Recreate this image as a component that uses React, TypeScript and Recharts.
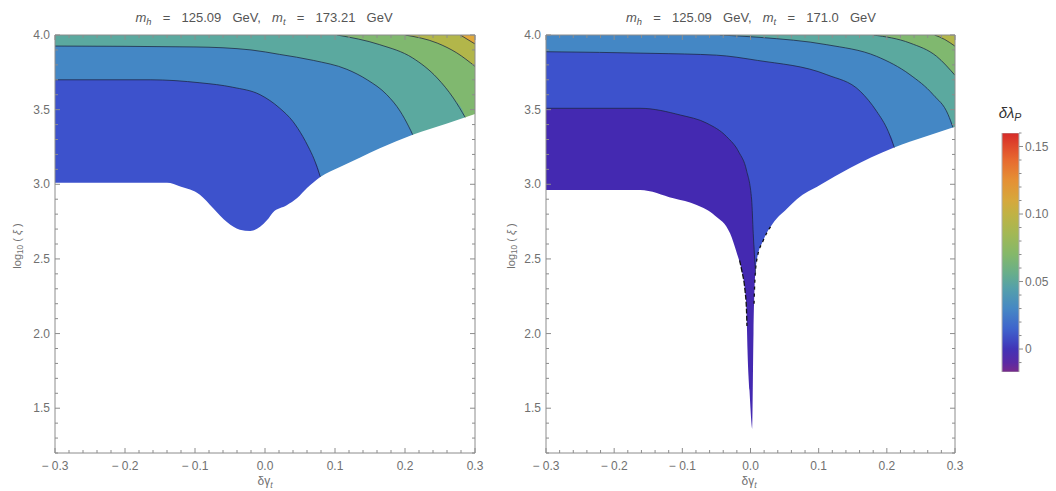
import React from 'react';
import { ComposedChart, Area, Line, XAxis, YAxis } from 'recharts';

type Pt = [number, number];

const TOP_Y = 4.0;
const Y_MIN = 1.2;
const X_MIN = -0.3;
const X_MAX = 0.3;

const xTicks = [-0.3, -0.28, -0.26, -0.24, -0.22, -0.2, -0.18, -0.16, -0.14, -0.12, -0.1, -0.08, -0.06, -0.04, -0.02, 0, 0.02, 0.04, 0.06, 0.08, 0.1, 0.12, 0.14, 0.16, 0.18, 0.2, 0.22, 0.24, 0.26, 0.28, 0.3];
const yTicks = [1.2, 1.3, 1.4, 1.5, 1.6, 1.7, 1.8, 1.9, 2.0, 2.1, 2.2, 2.3, 2.4, 2.5, 2.6, 2.7, 2.8, 2.9, 3.0, 3.1, 3.2, 3.3, 3.4, 3.5, 3.6, 3.7, 3.8, 3.9, 4.0];
const cbarTicks = [-0.01, 0, 0.01, 0.02, 0.03, 0.04, 0.05, 0.06, 0.07, 0.08, 0.09, 0.1, 0.11, 0.12, 0.13, 0.14, 0.15, 0.16];

// ---- left panel: m_t = 173.21 GeV ----
const leftBoundary: Pt[] = [[-0.3, 3.01], [-0.14, 3.01], [-0.121, 2.985], [-0.093, 2.93], [-0.074, 2.84], [-0.054, 2.745], [-0.036, 2.695], [-0.021, 2.687], [-0.007, 2.716], [0.003, 2.76], [0.011, 2.81], [0.031, 2.86], [0.046, 2.908], [0.06, 2.975], [0.079, 3.049], [0.107, 3.116], [0.136, 3.18], [0.164, 3.242], [0.211, 3.332], [0.26, 3.407], [0.3, 3.47]];
const leftContour1: Pt[] = [[-0.3, 3.7], [-0.164, 3.7], [-0.093, 3.68], [-0.046, 3.65], [-0.007, 3.6], [0.021, 3.51], [0.04, 3.42], [0.054, 3.32], [0.062, 3.25], [0.07, 3.17], [0.079, 3.05]];
const leftContour2: Pt[] = [[-0.3, 3.926], [-0.1, 3.92], [-0.02, 3.9], [0.021, 3.87], [0.069, 3.83], [0.117, 3.77], [0.146, 3.7], [0.174, 3.6], [0.193, 3.49], [0.205, 3.39], [0.211, 3.332]];
const leftContour3: Pt[] = [[0.103, 4.0], [0.164, 3.935], [0.211, 3.846], [0.246, 3.712], [0.269, 3.578], [0.286, 3.448]];
const leftContour4: Pt[] = [[0.2, 4.0], [0.246, 3.946], [0.274, 3.88], [0.3, 3.79]];
const leftContour5: Pt[] = [[0.279, 4.0], [0.3, 3.94]];

// ---- right panel: m_t = 171.0 GeV ----
const rightBoundary: Pt[] = [[-0.3, 2.962], [-0.162, 2.962], [-0.113, 2.906], [-0.079, 2.861], [-0.052, 2.79], [-0.03, 2.672], [-0.02, 2.538], [-0.013, 2.426], [-0.0081, 2.29], [-0.0059, 2.16], [-0.0044, 1.89], [-0.0015, 1.62], [0.0029, 1.354], [0.0044, 2.0], [0.0059, 2.3], [0.0091, 2.49], [0.019, 2.627], [0.033, 2.739], [0.053, 2.835], [0.068, 2.9], [0.102, 2.995], [0.146, 3.109], [0.209, 3.243], [0.258, 3.321], [0.3, 3.385]];
const rightContour0: Pt[] = [[-0.3, 3.509], [-0.162, 3.509], [-0.103, 3.464], [-0.064, 3.409], [-0.035, 3.319], [-0.017, 3.215], [-0.006, 3.096], [0.0017, 2.895], [0.004, 2.672], [0.0075, 2.4]];
const rightContour1: Pt[] = [[-0.3, 3.888], [-0.143, 3.877], [-0.05, 3.865], [0.01, 3.83], [0.112, 3.734], [0.161, 3.623], [0.185, 3.489], [0.202, 3.355], [0.211, 3.246]];
const rightContour2: Pt[] = [[-0.045, 4.0], [0.014, 3.984], [0.112, 3.935], [0.185, 3.857], [0.234, 3.734], [0.268, 3.6], [0.29, 3.466], [0.297, 3.38]];
const rightContour3: Pt[] = [[0.18, 4.0], [0.234, 3.946], [0.273, 3.857], [0.3, 3.73]];
const rightContour4: Pt[] = [[0.27, 4.0], [0.285, 3.97], [0.3, 3.925]];
const rightSpikeEdgeL: Pt[] = [[-0.016, 2.49], [-0.013, 2.426], [-0.0081, 2.29], [-0.0059, 2.16], [-0.0052, 2.05]];
const rightSpikeEdgeR: Pt[] = [[0.0052, 2.2], [0.0059, 2.3], [0.0091, 2.49], [0.019, 2.627], [0.03, 2.72]];

// ---- colour legend ----
const cbarRange: Pt = [-0.017, 0.16];
const cbarStops: [number, string][] = [
  [0.16, '#d62a28'], [0.15, '#e04a2c'], [0.14, '#e76a30'], [0.125, '#e59035'], [0.11, '#d6a83c'],
  [0.1, '#c0b244'], [0.085, '#a2b855'], [0.07, '#84b86a'], [0.055, '#66ad8d'], [0.045, '#55a0aa'],
  [0.03, '#4688c4'], [0.015, '#3f64cc'], [0.005, '#3f44c0'], [0.0, '#4233b6'], [-0.01, '#5a2aa4'], [-0.017, '#782a8c'],
];

const C_PURPLE = '#4429b1';
const C_BLUE = '#3d52cc';
const C_LBLUE = '#4487c5';
const C_TEAL = '#5ba99f';
const C_GREEN = '#80b86f';
const C_YGREEN = '#b2b64a';
const C_ORANGE = '#e0a83a';

const AXIS_COLOR = '#8c8c8c';
const LABEL_COLOR = '#707070';
const TITLE_COLOR = '#555555';
const CONTOUR_COLOR = '#1c2640';
const FONT = '"Liberation Sans", Arial, sans-serif';

type BandRow = { x: number; r: [number, number] };

// band above a contour: follows the contour, then drops to the bottom (the white mask hides what lies below the data boundary)
function bandData(edge: Pt[] | null): BandRow[] {
  if (!edge) {
    return [
      { x: X_MIN, r: [Y_MIN, TOP_Y] },
      { x: X_MAX, r: [Y_MIN, TOP_Y] },
    ];
  }
  const rows: BandRow[] = edge.map(([x, y]) => ({ x, r: [y, TOP_Y] }));
  const last = edge[edge.length - 1][0];
  if (last < X_MAX - 1e-9) {
    rows.push({ x: last + 0.0004, r: [Y_MIN, TOP_Y] });
    rows.push({ x: X_MAX, r: [Y_MIN, TOP_Y] });
  }
  return rows;
}
function maskData(boundary: Pt[]): BandRow[] {
  return boundary.map(([x, y]) => ({ x, r: [Y_MIN, y] }));
}
function lineData(pts: Pt[]) {
  return pts.map(([x, y]) => ({ x, y }));
}

function isMult(v: number, step: number) {
  const q = v / step;
  return Math.abs(q - Math.round(q)) < 1e-6;
}
function fmtX(v: number) {
  if (Math.abs(v) < 1e-9) return '0.0';
  const s = Math.abs(v).toFixed(1);
  return v < 0 ? '\u2212 ' + s : s;
}

const makeXTick = (plotTop: number) => (props: any) => {
  const { x, y, payload } = props;
  const v = payload.value as number;
  const major = isMult(v, 0.1);
  const len = major ? 5 : 3;
  return (
    <g>
      <line x1={x} x2={x} y1={y} y2={y - len} stroke={AXIS_COLOR} />
      <line x1={x} x2={x} y1={plotTop} y2={plotTop + len} stroke={AXIS_COLOR} />
      {major && (
        <text x={x} y={y + 17} textAnchor="middle" fontSize={12} fill={LABEL_COLOR} fontFamily={FONT}>
          {fmtX(v)}
        </text>
      )}
    </g>
  );
};

const makeYTick = (plotRight: number) => (props: any) => {
  const { x, y, payload } = props;
  const v = payload.value as number;
  const major = isMult(v, 0.5);
  const len = major ? 5 : 3;
  return (
    <g>
      <line x1={x} x2={x + len} y1={y} y2={y} stroke={AXIS_COLOR} />
      <line x1={plotRight} x2={plotRight - len} y1={y} y2={y} stroke={AXIS_COLOR} />
      {major && (
        <text x={x - 5} y={y + 4} textAnchor="end" fontSize={12} fill={LABEL_COLOR} fontFamily={FONT}>
          {v.toFixed(1)}
        </text>
      )}
    </g>
  );
};

const cbarTick = (props: any) => {
  const { x, y, payload } = props;
  const v = payload.value as number;
  const major = isMult(v, 0.05);
  const len = major ? 4 : 2.5;
  const label = Math.abs(v) < 1e-9 ? '0' : v.toFixed(2);
  return (
    <g>
      <line x1={x} x2={x + len} y1={y} y2={y} stroke={AXIS_COLOR} />
      {major && (
        <text x={x + 6} y={y + 4} textAnchor="start" fontSize={12} fill={LABEL_COLOR} fontFamily={FONT}>
          {label}
        </text>
      )}
    </g>
  );
};

type Band = { edge: Pt[] | null; color: string };

function Panel(props: {
  width: number;
  plotLeft: number;
  plotRight: number;
  bands: Band[];
  boundary: Pt[];
  contours: Pt[][];
  extras?: { pts: Pt[]; dash?: string }[];
}) {
  const { width, plotLeft, plotRight, bands, boundary, contours, extras } = props;
  const plotTop = 35;
  const plotBottom = 453;
  const H = 491;
  return (
    <ComposedChart
      width={width}
      height={H}
      margin={{ top: plotTop - 1, right: width - plotRight - 1, bottom: H - plotBottom - 1, left: plotLeft - 1 }}
    >
      {bands.map((b, i) => (
        <Area
          key={'b' + i}
          data={bandData(b.edge)}
          dataKey="r"
          type="monotone"
          fill={b.color}
          fillOpacity={1}
          stroke="none"
          isAnimationActive={false}
          activeDot={false}
        />
      ))}
      <Area
        data={maskData(boundary)}
        dataKey="r"
        type="monotone"
        fill="#ffffff"
        fillOpacity={1}
        stroke="none"
        isAnimationActive={false}
        activeDot={false}
      />
      {(extras || []).map((e, i) => (
        <Line
          key={'e' + i}
          data={lineData(e.pts)}
          dataKey="y"
          type="monotone"
          stroke="#111111"
          strokeWidth={1.3}
          strokeDasharray={e.dash}
          dot={false}
          activeDot={false}
          isAnimationActive={false}
        />
      ))}
      {contours.map((c, i) => (
        <Line
          key={'c' + i}
          data={lineData(c)}
          dataKey="y"
          type="monotone"
          stroke={CONTOUR_COLOR}
          strokeOpacity={0.75}
          strokeWidth={1}
          dot={false}
          activeDot={false}
          isAnimationActive={false}
        />
      ))}
      <XAxis
        type="number"
        dataKey="x"
        domain={[X_MIN, X_MAX]}
        allowDataOverflow
        ticks={xTicks}
        interval={0}
        height={1}
        tickSize={0}
        tickMargin={0}
        tickLine={false}
        axisLine={{ stroke: AXIS_COLOR }}
        tick={makeXTick(plotTop)}
      />
      <YAxis
        type="number"
        domain={[Y_MIN, TOP_Y]}
        allowDataOverflow
        ticks={yTicks}
        interval={0}
        width={1}
        tickSize={0}
        tickMargin={0}
        tickLine={false}
        axisLine={{ stroke: AXIS_COLOR }}
        tick={makeYTick(plotRight)}
      />
      <XAxis
        xAxisId="top"
        orientation="top"
        type="number"
        domain={[X_MIN, X_MAX]}
        allowDataOverflow
        height={1}
        tick={false}
        tickLine={false}
        axisLine={{ stroke: AXIS_COLOR }}
      />
      <YAxis
        yAxisId="right"
        orientation="right"
        type="number"
        domain={[Y_MIN, TOP_Y]}
        allowDataOverflow
        width={1}
        tick={false}
        tickLine={false}
        axisLine={{ stroke: AXIS_COLOR }}
      />
    </ComposedChart>
  );
}

function Title({ center, mt }: { center: number; mt: string }) {
  const sub: React.CSSProperties = { fontSize: '0.72em', position: 'relative', top: '0.3em', fontStyle: 'italic' };
  return (
    <div
      style={{
        position: 'absolute',
        left: center - 200,
        width: 400,
        top: 10,
        textAlign: 'center',
        fontFamily: FONT,
        fontSize: 13,
        lineHeight: '16px',
        color: TITLE_COLOR,
        whiteSpace: 'pre',
        wordSpacing: 2,
      }}
    >
      <span style={{ fontStyle: 'italic' }}>m</span>
      <span style={sub}>h</span>
      {'  =  125.09  GeV,  '}
      <span style={{ fontStyle: 'italic' }}>m</span>
      <span style={sub}>t</span>
      {'  =  ' + mt + '  GeV'}
    </div>
  );
}

function YLabel({ cx, cy }: { cx: number; cy: number }) {
  return (
    <div
      style={{
        position: 'absolute',
        left: cx - 50,
        top: cy - 8,
        width: 100,
        height: 16,
        lineHeight: '16px',
        textAlign: 'center',
        transform: 'rotate(-90deg)',
        fontFamily: FONT,
        fontSize: 11,
        color: LABEL_COLOR,
        whiteSpace: 'pre',
      }}
    >
      log<span style={{ fontSize: '0.75em', position: 'relative', top: '0.3em' }}>10</span>
      {' ( '}
      <span style={{ fontStyle: 'italic' }}>ξ</span>
      {' )'}
    </div>
  );
}

function XLabel({ cx }: { cx: number }) {
  return (
    <div
      style={{
        position: 'absolute',
        left: cx - 40,
        top: 474,
        width: 80,
        textAlign: 'center',
        fontFamily: FONT,
        fontSize: 12,
        lineHeight: '14px',
        color: LABEL_COLOR,
      }}
    >
      δγ<span style={{ fontSize: '0.72em', position: 'relative', top: '0.3em', fontStyle: 'italic' }}>t</span>
    </div>
  );
}

function ColorBar() {
  const w = 76;
  const pl = 22;
  const pr = 39;
  const pt = 134;
  const pb = 372;
  const H = 491;
  const data = [
    { x: 0, r: cbarRange },
    { x: 1, r: cbarRange },
  ];
  const span = cbarRange[1] - cbarRange[0];
  return (
    <ComposedChart width={w} height={H} margin={{ top: pt - 1, right: w - pr - 1, bottom: H - pb - 1, left: pl - 1 }}>
      <defs>
        <linearGradient id="cbarGrad" x1="0" y1="0" x2="0" y2="1">
          {cbarStops.map(([v, c], i) => (
            <stop key={i} offset={(cbarRange[1] - v) / span} stopColor={c} />
          ))}
        </linearGradient>
      </defs>
      <Area
        data={data}
        dataKey="r"
        type="linear"
        fill="url(#cbarGrad)"
        fillOpacity={1}
        stroke="#b0b0b0"
        strokeWidth={0.8}
        isAnimationActive={false}
        activeDot={false}
      />
      <XAxis type="number" dataKey="x" domain={[0, 1]} height={1} tick={false} tickLine={false} axisLine={false} />
      <YAxis
        orientation="right"
        type="number"
        domain={[cbarRange[0], cbarRange[1]]}
        allowDataOverflow
        ticks={cbarTicks}
        interval={0}
        width={1}
        tickSize={0}
        tickMargin={0}
        tickLine={false}
        axisLine={{ stroke: '#b0b0b0' }}
        tick={cbarTick}
      />
      <YAxis
        yAxisId="cl"
        orientation="left"
        type="number"
        domain={[cbarRange[0], cbarRange[1]]}
        allowDataOverflow
        width={1}
        tick={false}
        tickLine={false}
        axisLine={{ stroke: '#b0b0b0' }}
      />
    </ComposedChart>
  );
}

export default function App() {
  const leftBands: Band[] = [
    { edge: null, color: C_BLUE },
    { edge: leftContour1, color: C_LBLUE },
    { edge: leftContour2, color: C_TEAL },
    { edge: leftContour3, color: C_GREEN },
    { edge: leftContour4, color: C_YGREEN },
    { edge: leftContour5, color: C_ORANGE },
  ];
  const rightBands: Band[] = [
    { edge: null, color: C_PURPLE },
    { edge: rightContour0, color: C_BLUE },
    { edge: rightContour1, color: C_LBLUE },
    { edge: rightContour2, color: C_TEAL },
    { edge: rightContour3, color: C_GREEN },
    { edge: rightContour4, color: C_YGREEN },
  ];
  return (
    <div
      style={{
        position: 'absolute',
        left: 0,
        top: 0,
        width: 1056,
        height: 491,
        overflow: 'hidden',
        background: '#ffffff',
      }}
    >
      <div style={{ position: 'absolute', left: 0, top: 0 }}>
        <Panel
          width={500}
          plotLeft={55}
          plotRight={475}
          bands={leftBands}
          boundary={leftBoundary}
          contours={[leftContour1, leftContour2, leftContour3, leftContour4, leftContour5]}
        />
      </div>
      <div style={{ position: 'absolute', left: 500, top: 0 }}>
        <Panel
          width={480}
          plotLeft={46}
          plotRight={455}
          bands={rightBands}
          boundary={rightBoundary}
          contours={[rightContour0, rightContour1, rightContour2, rightContour3, rightContour4]}
          extras={[{ pts: rightSpikeEdgeL, dash: '5 2' }, { pts: rightSpikeEdgeR, dash: '3 4' }]}
        />
      </div>
      <div style={{ position: 'absolute', left: 980, top: 0 }}>
        <ColorBar />
      </div>
      <Title center={264} mt="173.21" />
      <Title center={751} mt="171.0" />
      <YLabel cx={17} cy={246} />
      <YLabel cx={511} cy={246} />
      <XLabel cx={265} />
      <XLabel cx={749} />
      <div
        style={{
          position: 'absolute',
          left: 990,
          top: 104,
          width: 40,
          textAlign: 'center',
          fontFamily: FONT,
          fontSize: 15,
          lineHeight: '18px',
          fontStyle: 'italic',
          color: '#333333',
        }}
      >
        δλ<span style={{ fontSize: '0.7em', position: 'relative', top: '0.3em' }}>P</span>
      </div>
    </div>
  );
}
